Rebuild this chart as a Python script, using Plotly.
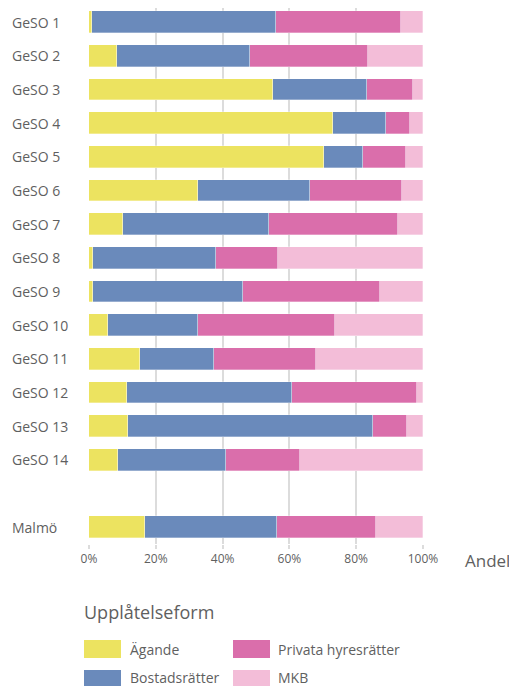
import plotly.graph_objects as go

categories = ["GeSO 1", "GeSO 2", "GeSO 3", "GeSO 4", "GeSO 5", "GeSO 6", "GeSO 7",
              "GeSO 8", "GeSO 9", "GeSO 10", "GeSO 11", "GeSO 12", "GeSO 13", "GeSO 14",
              "Malmö"]
agande = [0.9, 8.4, 55.1, 73.1, 70.3, 32.6, 10.1, 1.1, 1.1, 5.6, 15.3, 11.4, 11.7, 8.6, 16.8]
bostadsratter = [55.1, 39.9, 28.2, 15.9, 11.7, 33.6, 43.8, 37.0, 45.1, 27.1, 22.1, 49.3, 73.3, 32.5, 39.5]
privata = [37.4, 35.2, 13.8, 7.0, 12.9, 27.5, 38.6, 18.5, 40.8, 40.9, 30.5, 37.5, 10.3, 22.0, 29.6]
mkb = [6.6, 16.5, 2.9, 4.0, 5.1, 6.3, 7.5, 43.4, 13.0, 26.4, 32.1, 1.8, 4.7, 36.9, 14.1]
series_names = ["Ägande", "Bostadsrätter", "Privata hyresrätter", "MKB"]
tick_vals = [0, 20, 40, 60, 80, 100]
tick_text = [f"{v}%" for v in tick_vals]

colors = ["#ECE360", "#6A8ABB", "#DA6EAB", "#F3BDD8"]
text_color = "#5f5f5f"
FONT = "Open Sans"

# positions: GeSO rows consecutive, one empty slot before Malmö
ypos = list(range(len(categories) - 1)) + [len(categories)]

OFF = 8  # page body margin
W, H = 517 - OFF, 686 - OFF
ML, MR, MT, MB = 89 - OFF, 94, 0, 142
PW = W - ML - MR
PH = H - MT - MB


def px(x):  # page x -> paper
    return (x - OFF - ML) / PW


def py(y):  # page y -> paper
    return (H - MB - (y - OFF)) / PH


fig = go.Figure()
for name, vals, col in zip(series_names, [agande, bostadsratter, privata, mkb], colors):
    fig.add_trace(go.Bar(
        y=ypos, x=vals, name=name, orientation="h",
        marker=dict(color=col, line=dict(color="rgba(255,255,255,0.6)", width=0.5)),
        width=0.65, showlegend=False,
    ))

annotations = []
for cat, yp in zip(categories, ypos):
    annotations.append(dict(
        x=px(10), y=yp, xref="paper", yref="y", text=cat, showarrow=False,
        xanchor="left", yanchor="middle", font=dict(family=FONT, size=14, color=text_color)))

annotations.append(dict(
    x=px(511), y=py(560), xref="paper", yref="paper", text="Andel", showarrow=False,
    xanchor="right", yanchor="middle", borderpad=0,
    font=dict(family=FONT, size=17, color=text_color)))
annotations.append(dict(
    x=px(82), y=py(612), xref="paper", yref="paper", text="Upplåtelseform", showarrow=False,
    xanchor="left", yanchor="middle", font=dict(family=FONT, size=18, color=text_color)))

shapes = []
legend_pos = [(84, 640, 129, 649), (84, 670, 129, 677), (233, 640, 277, 649), (233, 670, 277, 677)]
for (sx, sy, tx, ty), idx in zip(legend_pos, range(4)):
    shapes.append(dict(type="rect", xref="paper", yref="paper",
                       x0=px(sx), x1=px(sx + 37), y0=py(sy), y1=py(sy + 18),
                       fillcolor=colors[idx], line=dict(width=0)))
    annotations.append(dict(
        x=px(tx), y=py(ty), xref="paper", yref="paper", text=series_names[idx],
        showarrow=False, xanchor="left", yanchor="middle", borderpad=0,
        font=dict(family=FONT, size=14, color=text_color)))

fig.update_layout(
    barmode="stack",
    width=W, height=H,
    margin=dict(l=ML, r=MR, t=MT, b=MB),
    paper_bgcolor="white", plot_bgcolor="white",
    bargap=0,
    xaxis=dict(range=[0, 100], tickmode="array", tickvals=tick_vals, ticktext=tick_text,
               showgrid=True, gridcolor="#dcdcdc", gridwidth=1.5,
               ticks="outside", ticklen=4, tickcolor="#dcdcdc", tickwidth=1.5,
               zeroline=False, showline=False,
               tickfont=dict(family=FONT, size=12, color=text_color)),
    yaxis=dict(range=[15.5, -0.42], showticklabels=False,
               showgrid=False, zeroline=False, showline=False, ticks=""),
    annotations=annotations,
    shapes=shapes,
    font=dict(family=FONT, color=text_color),
)

fig.write_html("out.html")
